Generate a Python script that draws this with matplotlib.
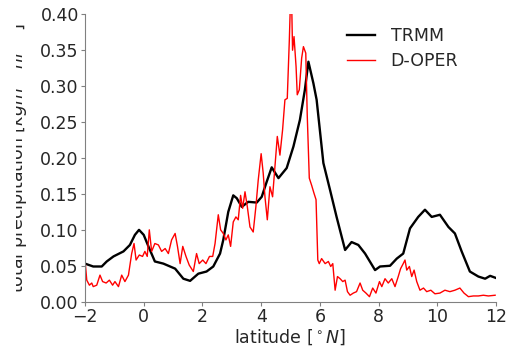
import matplotlib
matplotlib.use("Agg")
import matplotlib.pyplot as plt
from matplotlib.transforms import Bbox, TransformedBbox

# TRMM (smooth) latitude profile
trmm_lat = [-2.0, -1.72, -1.43, -1.26, -1.03, -0.69, -0.47, -0.30, -0.16, 0.0,
            0.16, 0.38, 0.67, 1.07, 1.35, 1.58, 1.86, 2.14, 2.37, 2.60,
            2.71, 2.88, 3.05, 3.17, 3.34, 3.56, 3.85, 4.02, 4.19, 4.36,
            4.59, 4.87, 5.10, 5.32, 5.49, 5.61, 5.78, 5.89, 6.12, 6.35,
            6.57, 6.86, 7.08, 7.31, 7.54, 7.88, 8.05, 8.39, 8.62, 8.84,
            9.07, 9.35, 9.58, 9.81, 10.09, 10.38, 10.60, 10.83, 11.11, 11.40,
            11.63, 11.80, 12.0]
trmm_val = [0.053, 0.049, 0.049, 0.056, 0.063, 0.070, 0.079, 0.093, 0.100, 0.093,
            0.077, 0.056, 0.053, 0.046, 0.032, 0.029, 0.039, 0.042, 0.049, 0.067,
            0.086, 0.125, 0.148, 0.144, 0.132, 0.139, 0.138, 0.146, 0.167, 0.187,
            0.172, 0.186, 0.216, 0.253, 0.295, 0.334, 0.304, 0.281, 0.193, 0.155,
            0.118, 0.072, 0.083, 0.079, 0.067, 0.044, 0.049, 0.050, 0.060, 0.067,
            0.102, 0.118, 0.128, 0.118, 0.121, 0.104, 0.095, 0.070, 0.042, 0.035,
            0.032, 0.036, 0.033]

# D-OPER model run
doper_lat = [-2.0, -1.94, -1.85, -1.77, -1.72, -1.60, -1.49, -1.40, -1.28, -1.17,
             -1.06, -0.98, -0.86, -0.75, -0.64, -0.52, -0.41, -0.33, -0.26, -0.15,
             -0.04, 0.04, 0.12, 0.19, 0.27, 0.38, 0.50, 0.61, 0.73, 0.84,
             0.95, 1.07, 1.15, 1.24, 1.33, 1.44, 1.55, 1.69, 1.80, 1.89,
             2.01, 2.12, 2.24, 2.35, 2.43, 2.54, 2.62, 2.71, 2.80, 2.88,
             2.96, 3.05, 3.14, 3.22, 3.30, 3.37, 3.45, 3.53, 3.62, 3.73,
             3.82, 3.90, 4.00, 4.07, 4.13, 4.21, 4.30, 4.39, 4.47, 4.55,
             4.64, 4.73, 4.81, 4.89, 4.96, 5.00, 5.04, 5.07, 5.12, 5.19,
             5.23, 5.30, 5.38, 5.44, 5.52, 5.57, 5.64, 5.72, 5.80, 5.87,
             5.93, 5.98, 6.06, 6.18, 6.29, 6.37, 6.44, 6.52, 6.60, 6.69,
             6.78, 6.86, 6.94, 7.03, 7.14, 7.25, 7.37, 7.46, 7.57, 7.69,
             7.80, 7.91, 8.03, 8.11, 8.22, 8.33, 8.45, 8.56, 8.67, 8.75,
             8.84, 8.90, 8.96, 9.05, 9.13, 9.21, 9.30, 9.41, 9.53, 9.64,
             9.78, 9.92, 10.09, 10.26, 10.43, 10.60, 10.77, 10.91, 11.06, 11.23,
             11.40, 11.57, 11.74, 11.97]
doper_val = [0.058, 0.030, 0.023, 0.026, 0.021, 0.023, 0.037, 0.028, 0.026, 0.030,
             0.023, 0.028, 0.021, 0.037, 0.028, 0.037, 0.067, 0.081, 0.058, 0.065,
             0.063, 0.070, 0.063, 0.100, 0.070, 0.081, 0.079, 0.070, 0.074, 0.067,
             0.086, 0.095, 0.077, 0.053, 0.077, 0.063, 0.051, 0.042, 0.067, 0.053,
             0.058, 0.053, 0.063, 0.063, 0.081, 0.121, 0.100, 0.095, 0.086, 0.093,
             0.077, 0.111, 0.118, 0.114, 0.148, 0.130, 0.153, 0.132, 0.104, 0.097,
             0.132, 0.169, 0.206, 0.179, 0.146, 0.114, 0.160, 0.146, 0.188, 0.230,
             0.204, 0.239, 0.281, 0.283, 0.364, 0.420, 0.415, 0.350, 0.369, 0.327,
             0.288, 0.295, 0.339, 0.355, 0.346, 0.260, 0.172, 0.162, 0.151, 0.142,
             0.058, 0.053, 0.060, 0.053, 0.056, 0.049, 0.053, 0.016, 0.035, 0.032,
             0.028, 0.030, 0.014, 0.009, 0.012, 0.014, 0.026, 0.016, 0.012, 0.007,
             0.019, 0.012, 0.028, 0.021, 0.032, 0.026, 0.032, 0.021, 0.035, 0.046,
             0.053, 0.058, 0.044, 0.049, 0.035, 0.044, 0.028, 0.016, 0.019, 0.014,
             0.016, 0.011, 0.012, 0.016, 0.014, 0.016, 0.019, 0.012, 0.007, 0.008,
             0.008, 0.009, 0.008, 0.009]

xticks = [-2, 0, 2, 4, 6, 8, 10, 12]
yticks = [0.00, 0.05, 0.10, 0.15, 0.20, 0.25, 0.30, 0.35, 0.40]

FS = 12.5
GREY = "#808080"
TXT = "#262626"

fig = plt.figure(figsize=(5.08, 3.50), dpi=100)
ax = fig.add_axes([85 / 508, 1 - 301.7 / 350, 411 / 508, 287.4 / 350])

ax.plot(trmm_lat, trmm_val, color="black", lw=1.7, label="TRMM")
ax.plot(doper_lat, doper_val, color="red", lw=1.0, label="D-OPER")

ax.set_xlim(-2, 12)
ax.set_ylim(0, 0.40)
ax.set_xticks(xticks)
ax.set_yticks(yticks)
ax.set_yticklabels([f"{t:.2f}" for t in yticks])

for side in ("top", "right"):
    ax.spines[side].set_visible(False)
for side in ("left", "bottom"):
    ax.spines[side].set_color(GREY)
ax.tick_params(direction="out", color=GREY, labelcolor=TXT, labelsize=FS,
               top=False, right=False, length=3, pad=1.5)
for lab in ax.get_xticklabels() + ax.get_yticklabels():
    lab.set_color(TXT)

ax.set_xlabel(r"latitude [$^\circ N$]", fontsize=FS, color=TXT, labelpad=1)
ylab = ax.set_ylabel(r"total precipitation [$kgm^{-2}hr^{-1}$]", fontsize=FS, color=TXT)
ax.yaxis.set_label_coords((30 - 85) / 411, 0.5)
# the label runs off the left edge of the canvas
ylab.set_clip_box(TransformedBbox(Bbox([[16 / 508, 0], [1, 1]]), fig.transFigure))
ylab.set_clip_on(True)

leg = ax.legend(frameon=False, fontsize=FS, loc="upper left",
                bbox_to_anchor=(0.60, 1.01), handlelength=1.6,
                handletextpad=0.9, labelspacing=0.4)
for t in leg.get_texts():
    t.set_color(TXT)

fig.savefig("out.png", dpi=100)
